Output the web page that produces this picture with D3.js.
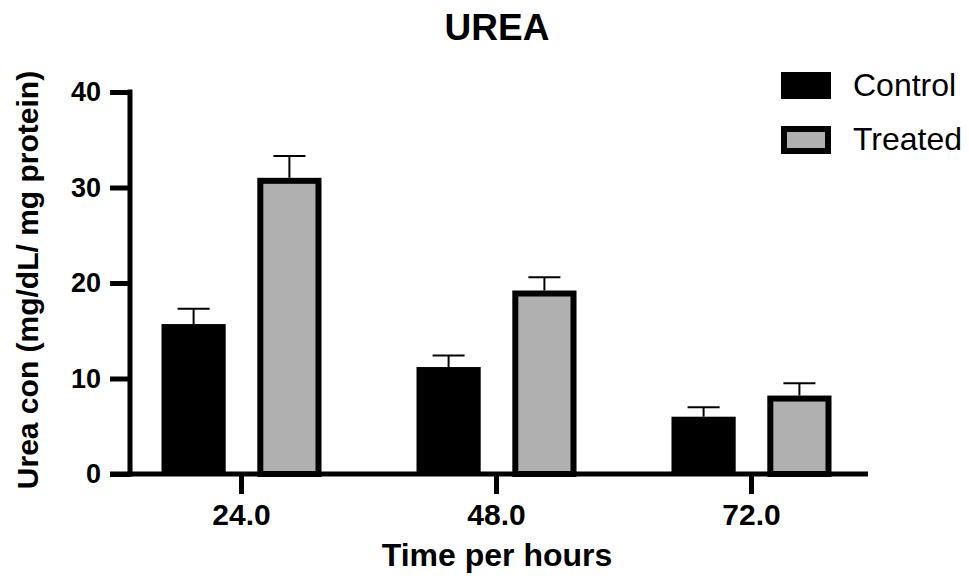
<!DOCTYPE html>
<meta charset="utf-8">
<head><title>UREA</title>
<style>
body { margin: 0; background: #fff; }
text { font-family: "Liberation Sans", Arial, sans-serif; fill: #000; }
.axis text { font-weight: bold; }
</style>
</head>
<body>
<svg width="969" height="576"></svg>
<script src="https://cdn.jsdelivr.net/npm/d3@7"></script>
<script>

// data
var groups = ["24.0", "48.0", "72.0"];
var series = ["Control", "Treated"];
var control = [15.7, 11.2, 6.0];
var controlErr = [1.6, 1.2, 1.0];
var treated = [30.7, 18.9, 7.9];
var treatedErr = [2.6, 1.7, 1.6];
var yTicks = [0, 10, 20, 30, 40];

var svg = d3.select("svg");

var rows = [];
groups.forEach(function(g, i) {
  rows.push({group: g, s: "Control", v: control[i], e: controlErr[i]});
  rows.push({group: g, s: "Treated", v: treated[i], e: treatedErr[i]});
});

var y = d3.scaleLinear().domain([0, 40]).range([474, 92]);
var x = d3.scaleBand().domain(groups).range([114, 879]).padding(0);
var xs = d3.scaleBand().domain(series).range([-80, 80]).paddingInner(0.33);

var fill = {Control: "#000", Treated: "#b0b0b0"};

// title
svg.append("text")
    .attr("x", 497).attr("y", 40)
    .attr("text-anchor", "middle")
    .style("font-size", "37px").style("font-weight", "bold")
    .text("UREA");

// bars
var g = svg.append("g");
g.selectAll("rect.bar")
  .data(rows)
  .enter().append("rect")
    .attr("class", "bar")
    .attr("x", function(d) { var c = x(d.group) + x.bandwidth() / 2 + xs(d.s); return d.s == "Treated" ? c + 3 : c; })
    .attr("width", function(d) { return d.s == "Treated" ? xs.bandwidth() - 6 : xs.bandwidth(); })
    .attr("y", function(d) { return y(d.v); })
    .attr("height", function(d) { return y(0) - y(d.v); })
    .attr("fill", function(d) { return fill[d.s]; })
    .attr("stroke", function(d) { return d.s == "Treated" ? "#000" : "none"; })
    .attr("stroke-width", 6);

// error bars (upper only)
function cx(d) { return x(d.group) + x.bandwidth() / 2 + xs(d.s) + xs.bandwidth() / 2; }
g.selectAll("line.err")
  .data(rows)
  .enter().append("line")
    .attr("x1", cx).attr("x2", cx)
    .attr("y1", function(d) { return y(d.v) - (d.s == "Treated" ? 3 : 0); })
    .attr("y2", function(d) { return y(d.v + d.e); })
    .attr("stroke", "#000").attr("stroke-width", 2);
g.selectAll("line.cap")
  .data(rows)
  .enter().append("line")
    .attr("x1", function(d) { return cx(d) - 16; })
    .attr("x2", function(d) { return cx(d) + 16; })
    .attr("y1", function(d) { return y(d.v + d.e); })
    .attr("y2", function(d) { return y(d.v + d.e); })
    .attr("stroke", "#000").attr("stroke-width", 2);

// y axis
var yAxis = svg.append("g")
    .attr("class", "axis")
    .attr("transform", "translate(130,0)")
    .call(d3.axisLeft(y).tickValues(yTicks).tickSize(20).tickSizeOuter(0).tickPadding(9));
yAxis.select(".domain").remove();
yAxis.selectAll(".tick line").attr("stroke", "#000").attr("stroke-width", 5);
yAxis.selectAll("text").style("font-size", "27px");
yAxis.append("line")
    .attr("x1", 0).attr("x2", 0)
    .attr("y1", y(40) - 2.5).attr("y2", y(0) + 2.5)
    .attr("stroke", "#000").attr("stroke-width", 5);

// x axis
var xAxis = svg.append("g")
    .attr("class", "axis")
    .attr("transform", "translate(0," + y(0) + ")")
    .call(d3.axisBottom(x).tickSize(20).tickSizeOuter(0).tickPadding(10));
xAxis.select(".domain").remove();
xAxis.selectAll(".tick line").attr("stroke", "#000").attr("stroke-width", 5);
xAxis.selectAll("text").style("font-size", "30px");
xAxis.append("line")
    .attr("x1", 110).attr("x2", 868)
    .attr("y1", 0).attr("y2", 0)
    .attr("stroke", "#000").attr("stroke-width", 5);

// axis titles
svg.append("text")
    .attr("x", 497).attr("y", 566)
    .attr("text-anchor", "middle")
    .style("font-size", "32px").style("font-weight", "bold")
    .text("Time per hours");
svg.append("text")
    .attr("transform", "translate(38,280) rotate(-90)")
    .attr("text-anchor", "middle")
    .style("font-size", "30px").style("font-weight", "bold")
    .text("Urea con (mg/dL/ mg protein)");

// legend
var leg = svg.append("g").selectAll("g")
  .data(series)
  .enter().append("g")
    .attr("transform", function(d, i) { return "translate(781," + (72 + i * 54) + ")"; });
leg.append("rect")
    .attr("x", function(d) { return d == "Treated" ? 3 : 0; })
    .attr("y", function(d) { return d == "Treated" ? 3 : 0; })
    .attr("width", function(d) { return d == "Treated" ? 44 : 50; })
    .attr("height", function(d) { return d == "Treated" ? 22 : 27; })
    .attr("fill", function(d) { return fill[d]; })
    .attr("stroke", function(d) { return d == "Treated" ? "#000" : "none"; })
    .attr("stroke-width", 6);
leg.append("text")
    .attr("x", 72).attr("y", 24)
    .style("font-size", "32px")
    .text(function(d) { return d; });

</script>
</body>
